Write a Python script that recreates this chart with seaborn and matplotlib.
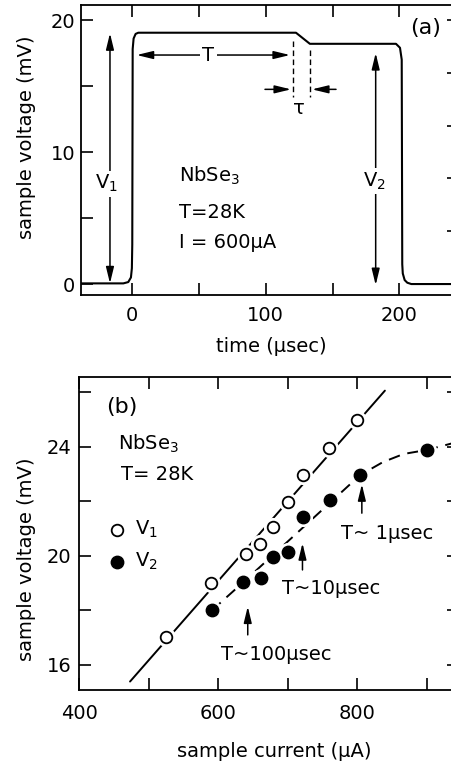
import matplotlib
matplotlib.use("Agg")
import matplotlib.pyplot as plt
import seaborn as sns
from matplotlib.ticker import MultipleLocator, FixedLocator

# ---------------- data: panel (a) waveform ----------------
time_us = [-40, -6.7, -3.0, -1.0, -0.3, 0.0, 0.3, 1.0, 2.5, 4.5,
           122.6, 133.0, 197.5, 200.5, 201.8, 202.2, 202.6, 204.0, 206.0, 209.0, 250]
voltage_mV = [0.05, 0.05, 0.15, 0.5, 1.2, 3.0, 17.8, 18.6, 18.95, 19.04,
              19.04, 18.2, 18.2, 17.9, 17.0, 1.5, 0.8, 0.3, 0.1, 0.0, 0.0]

# ---------------- data: panel (b) ----------------
current_v1 = [525, 590, 640, 660, 679, 700, 722, 760, 800]
voltage_v1 = [17.04, 19.0, 20.07, 20.42, 21.04, 21.96, 22.96, 23.95, 24.97]
current_v2 = [591, 636, 662, 679, 700, 722, 761, 804, 901]
voltage_v2 = [18.0, 19.05, 19.17, 19.97, 20.15, 21.43, 22.04, 22.95, 23.87]

fit_v1_current = [473, 840]
fit_v1_voltage = [15.39, 26.05]
guide_v2_current = [591, 640, 700, 760, 804, 837, 867, 901, 937, 950]
guide_v2_voltage = [18.0, 19.12, 20.52, 21.92, 22.95, 23.43, 23.73, 23.88, 24.12, 24.2]

a_xticks = [0, 100, 200]
a_yticks = [0, 10, 20]
b_xticks = [400, 600, 800]
b_yticks = [16, 20, 24]

# ---------------- style ----------------
sns.set_theme(style="ticks")
plt.rcParams["font.family"] = ["DejaVu Sans"]
plt.rcParams["mathtext.fontset"] = "dejavusans"
plt.rcParams["mathtext.default"] = "regular"
plt.rcParams["axes.linewidth"] = 1.3
plt.rcParams["axes.edgecolor"] = "black"
plt.rcParams["text.color"] = "black"
plt.rcParams["axes.labelcolor"] = "black"
plt.rcParams["xtick.color"] = "black"
plt.rcParams["ytick.color"] = "black"
FS = 14

fig = plt.figure(figsize=(4.52, 7.67), dpi=100)
W, H = 452, 767

def px_axes(l, t, r, b):
    return fig.add_axes([l / W, 1 - b / H, (r - l) / W, (b - t) / H])

def style_ticks(ax, xpad, ypad):
    ax.tick_params(which="both", direction="in", length=8.6, width=1.2,
                   top=True, right=False, labelsize=FS, colors="black")
    ax.tick_params(axis="x", which="both", pad=xpad)
    ax.tick_params(axis="y", which="both", pad=ypad)
    for s in ax.spines.values():
        s.set_visible(True)
        s.set_linewidth(1.3)
        s.set_color("black")

arrow_kw = dict(arrowstyle="-|>,head_length=0.7,head_width=0.17", color="black",
                lw=1.1, shrinkA=0, shrinkB=0, mutation_scale=14)
arrow2_kw = dict(arrowstyle="<|-|>,head_length=0.7,head_width=0.17", color="black",
                 lw=1.1, shrinkA=0, shrinkB=0, mutation_scale=14)
white_box = dict(facecolor="white", edgecolor="none", pad=1.5)

# ================= panel (a) =================
ax = px_axes(81, 5, 459, 295)
sns.lineplot(x=time_us, y=voltage_mV, ax=ax, color="black", lw=1.5,
             estimator=None, sort=False)
ax.set_xlim(-38.4, 244.7)
ax.set_ylim(-0.83, 21.14)
ax.xaxis.set_major_locator(FixedLocator(a_xticks))
ax.xaxis.set_minor_locator(MultipleLocator(50))
ax.yaxis.set_major_locator(FixedLocator(a_yticks))
ax.yaxis.set_minor_locator(MultipleLocator(5))
style_ticks(ax, 8, 4.3)
axr = ax.twinx()
axr.set_ylim(ax.get_ylim())
axr.yaxis.set_major_locator(FixedLocator([4, 8, 12, 16, 20]))
axr.tick_params(axis="y", direction="in", length=8.6, width=1.2, labelright=False,
                colors="black")
for s in axr.spines.values():
    s.set_visible(False)

ax.set_xlabel("time (μsec)", fontsize=FS)
ax.set_ylabel("sample voltage (mV)", fontsize=FS)
ax.xaxis.label.set_va("center")
ax.yaxis.label.set_va("center")
ax.xaxis.set_label_coords(0.504, -0.178)
ax.yaxis.set_label_coords(-0.143, 0.545)

# V1 / V2 double arrows
ax.annotate("", xy=(-16.7, 19.0), xytext=(-16.7, 0.05), arrowprops=arrow2_kw)
ax.text(-19.5, 7.6, "V$_1$", fontsize=FS, ha="center", va="center", bbox=white_box)
ax.annotate("", xy=(182.3, 17.5), xytext=(182.3, -0.08), arrowprops=arrow2_kw)
ax.text(181.5, 7.8, "V$_2$", fontsize=FS, ha="center", va="center", bbox=white_box)
# T arrow
ax.annotate("", xy=(118.1, 17.35), xytext=(3.3, 17.35), arrowprops=arrow2_kw)
ax.text(57, 17.3, "T", fontsize=FS, ha="center", va="center", bbox=white_box)
# dashed markers and tau
ax.plot([120.1, 120.1], [18.4, 14.2], color="black", lw=1.0, ls=(0, (4, 2.5)))
ax.plot([133.0, 133.0], [17.7, 14.2], color="black", lw=1.0, ls=(0, (4, 2.5)))
ax.annotate("", xy=(118.9, 14.75), xytext=(99.4, 14.75), arrowprops=arrow_kw)
ax.annotate("", xy=(134.6, 14.75), xytext=(152.6, 14.75), arrowprops=arrow_kw)
ax.text(125, 13.3, "τ", fontsize=FS, ha="center", va="center")
# sample text
ax.text(35, 7.75, "NbSe$_3$", fontsize=FS, ha="left", va="baseline")
ax.text(35, 4.98, "T=28K", fontsize=FS, ha="left", va="baseline")
ax.text(35, 2.7, "I = 600μA", fontsize=FS, ha="left", va="baseline")
ax.text(220, 19.4, "(a)", fontsize=16, ha="center", va="center")

# ================= panel (b) =================
bx = px_axes(79, 377, 459, 690)
sns.lineplot(x=fit_v1_current, y=fit_v1_voltage, ax=bx, color="black", lw=1.4,
             estimator=None, sort=False, zorder=2)
sns.lineplot(x=guide_v2_current, y=guide_v2_voltage, ax=bx, color="black", lw=1.4,
             estimator=None, sort=False, zorder=2, linestyle=(0, (6, 4)))
# white halos to break the lines around the symbols
sns.scatterplot(x=current_v1, y=voltage_v1, ax=bx, color="white", s=190,
                linewidth=0, zorder=3, legend=False)
sns.scatterplot(x=current_v2, y=voltage_v2, ax=bx, color="white", s=190,
                linewidth=0, zorder=3, legend=False)
sns.scatterplot(x=current_v1, y=voltage_v1, ax=bx, color="white", edgecolor="black",
                s=70, linewidth=1.3, zorder=4, label="V$_1$")
sns.scatterplot(x=current_v2, y=voltage_v2, ax=bx, color="black", edgecolor="black",
                s=80, linewidth=1.0, zorder=4, label="V$_2$")

bx.set_xlim(399.5, 946.7)
bx.set_ylim(15.08, 26.55)
bx.xaxis.set_major_locator(FixedLocator(b_xticks))
bx.xaxis.set_minor_locator(MultipleLocator(100))
bx.yaxis.set_major_locator(FixedLocator(b_yticks))
bx.yaxis.set_minor_locator(MultipleLocator(2))
style_ticks(bx, 10, 5.3)
bx.tick_params(which="both", right=True)

bx.set_xlabel("sample current (μA)", fontsize=FS)
bx.set_ylabel("sample voltage (mV)", fontsize=FS)
bx.xaxis.label.set_va("center")
bx.yaxis.label.set_va("center")
bx.xaxis.set_label_coords(0.513, -0.198)
bx.yaxis.set_label_coords(-0.137, 0.419)

handles, labels = bx.get_legend_handles_labels()
bx.legend(handles, labels, loc="center left", bbox_to_anchor=(0.079, 0.461),
          frameon=False, fontsize=FS, handlelength=0.8, handletextpad=0.55,
          labelspacing=0.55, borderpad=0, borderaxespad=0)

bx.text(461, 25.45, "(b)", fontsize=16, ha="center", va="center")
bx.text(456, 24.1, "NbSe$_3$", fontsize=FS, ha="left", va="center")
bx.text(460, 22.96, "T= 28K", fontsize=FS, ha="left", va="center")

bx.annotate("", xy=(806.8, 22.62), xytext=(806.8, 21.56), arrowprops=arrow_kw)
bx.text(843.5, 20.82, "T~ 1μsec", fontsize=FS, ha="center", va="center")
bx.annotate("", xy=(721.3, 20.46), xytext=(721.3, 19.48), arrowprops=arrow_kw)
bx.text(763, 18.81, "T~10μsec", fontsize=FS, ha="center", va="center")
bx.annotate("", xy=(642.5, 18.14), xytext=(642.5, 17.1), arrowprops=arrow_kw)
bx.text(683.6, 16.37, "T~100μsec", fontsize=FS, ha="center", va="center")

fig.savefig("out.png", dpi=100)
